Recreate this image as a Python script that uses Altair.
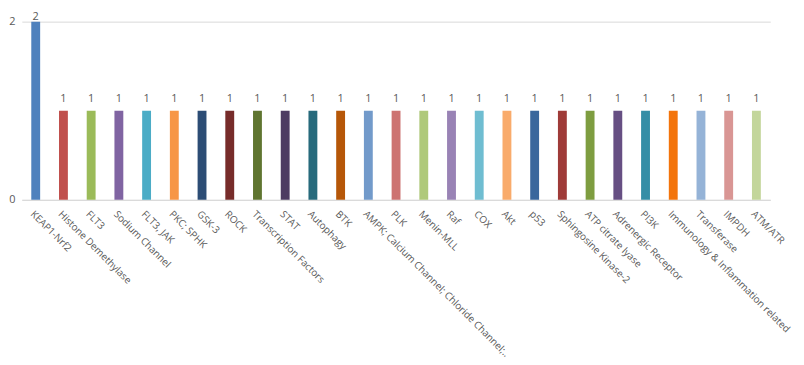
import altair as alt
import pandas as pd

categories = [
    "KEAP1-Nrf2", "Histone Demethylase", "FLT3", "Sodium Channel", "FLT3, JAK",
    "PKC; SPHK", "GSK-3", "ROCK", "Transcription Factors", "STAT", "Autophagy",
    "BTK", "AMPK; Calcium Channel; Chloride Channel;...", "PLK", "Menin-MLL",
    "Raf", "COX", "Akt", "p53", "Sphingosine Kinase-2", "ATP citrate lyase",
    "Adrenergic Receptor", "PI3K", "Immunology & Inflammation related",
    "Transferase", "IMPDH", "ATM/ATR",
]
values = [2, 1, 1, 1, 1, 1, 1, 1, 1, 1, 1, 1, 1, 1, 1, 1, 1, 1, 1, 1, 1, 1, 1, 1, 1, 1, 1]
colors = [
    "#4F81BD", "#C0504D", "#9BBB59", "#8064A2", "#4BACC6", "#F79646", "#2C4D75",
    "#772C2A", "#5F7530", "#4D3B62", "#276A7C", "#B65708", "#729ACA", "#CD7371",
    "#AFC97A", "#9983B5", "#6FBDD1", "#F9AB6B", "#3A679C", "#9F3B38", "#7E9D40",
    "#664F83", "#358EA6", "#F3740B", "#95B3D7", "#D99694", "#C3D69B",
]

df = pd.DataFrame({"category": categories, "value": values})

FONT = "Open Sans"
GREY = "#595959"

x = alt.X(
    "category:N",
    sort=categories,
    scale=alt.Scale(paddingInner=0.68, paddingOuter=0.34),
    axis=alt.Axis(
        title=None, labelAngle=45, labelAlign="left", labelBaseline="top",
        labelPadding=9, labelLimit=500, labelFontSize=10, labelFont=FONT,
        labelColor=GREY, ticks=False, domainColor="#D9D9D9", domainWidth=1,
        labelOverlap=False,
    ),
)
y = alt.Y(
    "value:Q",
    scale=alt.Scale(domain=[0, 2], nice=False),
    axis=alt.Axis(
        title=None, values=[0, 2], format="d", ticks=False, domain=False,
        gridColor="#D9D9D9", labelPadding=7, labelFontSize=11, labelFont=FONT,
        labelColor=GREY,
    ),
)

bars = alt.Chart(df).mark_bar().encode(
    x=x, y=y,
    color=alt.Color("category:N", sort=categories,
                    scale=alt.Scale(domain=categories, range=colors), legend=None),
)

labels_low = alt.Chart(df).transform_filter("datum.value < 2").mark_text(
    baseline="bottom", dy=-7, fontSize=11, font=FONT, color=GREY
).encode(x=alt.X("category:N", sort=categories), y="value:Q", text="value:Q")

labels_top = alt.Chart(df).transform_filter("datum.value >= 2").mark_text(
    baseline="bottom", dy=0, fontSize=11, font=FONT, color=GREY
).encode(x=alt.X("category:N", sort=categories), y="value:Q", text="value:Q")

chart = alt.layer(bars, labels_low, labels_top).properties(
    width=756, height=180,
    autosize=alt.AutoSizeParams(type="none"),
    padding={"left": 14, "top": 12, "right": 26, "bottom": 157},
).configure(background="white").configure_view(stroke=None, strokeWidth=0)

chart.save("out.html", embed_options={"renderer": "svg", "actions": False})
